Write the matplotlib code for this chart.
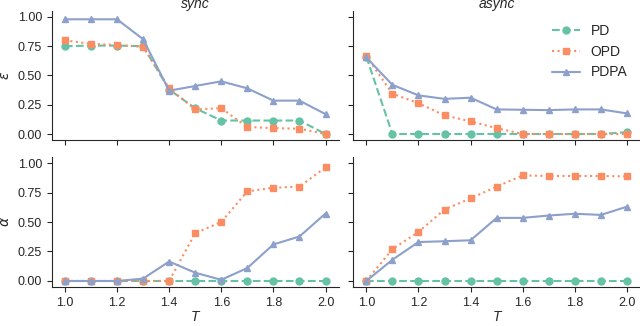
import matplotlib
matplotlib.use("Agg")
import matplotlib.pyplot as plt
import seaborn as sns

sns.set_style("ticks")
plt.rcParams['font.family'] = ['Liberation Sans', 'DejaVu Sans']
plt.rcParams['mathtext.fontset'] = 'dejavusans'

T = [1.0, 1.1, 1.2, 1.3, 1.4, 1.5, 1.6, 1.7, 1.8, 1.9, 2.0]

# epsilon
eps_sync_pd = [0.75, 0.755, 0.755, 0.75, 0.38, 0.22, 0.115, 0.115, 0.115, 0.115, 0.0]
eps_sync_opd = [0.80, 0.77, 0.76, 0.745, 0.39, 0.21, 0.22, 0.06, 0.05, 0.045, 0.0]
eps_sync_pdpa = [0.98, 0.98, 0.98, 0.81, 0.37, 0.41, 0.45, 0.39, 0.285, 0.285, 0.17]
eps_async_pd = [0.66, 0.0, 0.0, 0.0, 0.0, 0.0, 0.0, 0.0, 0.0, 0.0, 0.015]
eps_async_opd = [0.665, 0.345, 0.263, 0.159, 0.108, 0.05, 0.0, 0.0, 0.0, 0.0, 0.0]
eps_async_pdpa = [0.654, 0.42, 0.33, 0.30, 0.31, 0.21, 0.207, 0.204, 0.21, 0.21, 0.176]

# alpha
alp_sync_pd = [0.0] * 11
alp_sync_opd = [0.0, 0.0, 0.0, 0.0, 0.0, 0.405, 0.50, 0.76, 0.79, 0.80, 0.963]
alp_sync_pdpa = [0.0, 0.0, 0.0, 0.02, 0.165, 0.07, 0.01, 0.11, 0.31, 0.377, 0.572]
alp_async_pd = [0.0] * 11
alp_async_opd = [0.0, 0.27, 0.416, 0.606, 0.70, 0.80, 0.895, 0.89, 0.89, 0.89, 0.887]
alp_async_pdpa = [0.0, 0.18, 0.33, 0.337, 0.345, 0.535, 0.535, 0.555, 0.57, 0.56, 0.63]

colors = sns.color_palette("Set2", 3)

fig = plt.figure(figsize=(6.4, 3.26), dpi=100)
axes = [[fig.add_axes([0.081, 0.571, 0.448, 0.395]), fig.add_axes([0.552, 0.571, 0.448, 0.395])],
        [fig.add_axes([0.081, 0.120, 0.448, 0.398]), fig.add_axes([0.552, 0.120, 0.448, 0.398])]]

data = [[(eps_sync_pd, eps_sync_opd, eps_sync_pdpa), (eps_async_pd, eps_async_opd, eps_async_pdpa)],
        [(alp_sync_pd, alp_sync_opd, alp_sync_pdpa), (alp_async_pd, alp_async_opd, alp_async_pdpa)]]

for r in range(2):
    for c in range(2):
        ax = axes[r][c]
        pd_, opd, pdpa = data[r][c]
        ax.plot(T, pd_, '--o', color=colors[0], lw=1.5, ms=5, label='PD')
        ax.plot(T, opd, ':s', color=colors[1], lw=1.5, ms=5, label='OPD')
        ax.plot(T, pdpa, '-^', color=colors[2], lw=1.5, ms=5, label='PDPA')
        ax.set_ylim(-0.05, 1.05)
        ax.set_yticks([0.0, 0.25, 0.5, 0.75, 1.0])
        ax.set_xticks([1.0, 1.2, 1.4, 1.6, 1.8, 2.0])
        ax.tick_params(labelsize=9)
        if c == 1:
            ax.set_yticklabels([])
        if r == 0:
            ax.set_xticklabels([])
        sns.despine(ax=ax)

axes[0][0].set_title('sync', style='italic', fontsize=10, pad=2)
axes[0][1].set_title('async', style='italic', fontsize=10, pad=2)
axes[0][0].set_ylabel(r'$\epsilon$', fontsize=10)
axes[1][0].set_ylabel(r'$\alpha$', fontsize=10)
axes[1][0].set_xlabel('T', style='italic', fontsize=10, labelpad=1)
axes[1][1].set_xlabel('T', style='italic', fontsize=10, labelpad=1)
axes[0][1].legend(frameon=False, fontsize=10, loc='upper right')

fig.savefig('out.png', dpi=100)
